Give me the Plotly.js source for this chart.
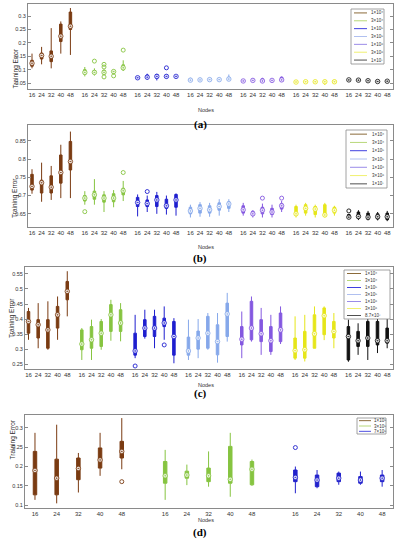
<!DOCTYPE html>
<html><head><meta charset="utf-8">
<script src="https://cdn.plot.ly/plotly-3.0.1.min.js"></script>
<style>body{margin:0;background:#fff}#chart{width:396px;height:550px}</style>
</head><body><div id="chart"></div>
<script>
// ---------- DATA ----------
const nodes = ["16","24","32","40","48"];
const legendABC = ["1×10⁴","3×10⁴","1×10⁵","3×10⁵","1×10⁶","3×10⁶","1×10⁷"];
const legendC = ["1×10⁴","3×10⁴","1×10⁵","3×10⁵","1×10⁶","3×10⁶","8.7×10⁷"];
const legendD = ["1×10⁵","3×10⁵","7×10⁵"];

// panel (a): 7 groups x 5 node counts
const aLo  = [.105,.12,.105,.16,.155, .075,.078,.08,.082,.095, .064,.062,.06,.066,.068, .054,.056,.057,.057,.058, .052,.054,.05,.053,.054, .05,.05,.05,.043,.049, .057,.056,.055,.05,.052];
const aQ1  = [.113,.14,.13,.205,.25, .083,.085,.083,.088,.1, .066,.067,.068,.07,.071, .058,.059,.06,.06,.061, .055,.057,.054,.056,.056, .052,.053,.053,.052,.051, .059,.058,.057,.053,.054];
const aMed = [.124,.153,.15,.225,.262, .09,.09,.09,.093,.107, .07,.072,.075,.075,.075, .061,.062,.063,.063,.065, .058,.06,.058,.06,.062, .054,.055,.055,.055,.055, .062,.061,.059,.056,.057];
const aQ3  = [.135,.162,.17,.27,.315, .1,.097,.098,.098,.118, .074,.08,.082,.08,.078, .066,.066,.067,.067,.072, .062,.065,.066,.064,.072, .057,.057,.057,.06,.06, .064,.064,.062,.06,.06];
const aHi  = [.16,.185,.255,.28,.33, .11,.105,.1,.1,.135, .076,.085,.085,.083,.08, .07,.07,.071,.07,.082, .064,.068,.07,.067,.075, .059,.06,.059,.062,.062, .066,.066,.064,.062,.062];
const aOutBox = [6,7,7,7,8,9,13];
const aOutVal = [.132,.12,.11,.073,.077,.173,.107];

// panel (b)
const bLo  = [.705,.683,.688,.693,.693, .675,.675,.655,.668,.685, .643,.655,.65,.648,.645, .64,.642,.642,.645,.655, .645,.64,.64,.64,.655, .64,.645,.64,.64,.645, .635,.633,.632,.632,.63];
const bQ1  = [.715,.707,.707,.734,.77, .685,.69,.682,.683,.702, .67,.67,.67,.665,.668, .65,.652,.652,.66,.665, .652,.646,.65,.648,.663, .646,.652,.648,.643,.652, .638,.637,.635,.636,.634];
const bMed = [.725,.735,.723,.763,.793, .693,.702,.693,.693,.713, .681,.678,.688,.672,.688, .658,.665,.661,.67,.677, .661,.65,.66,.655,.672, .65,.665,.663,.647,.66, .641,.643,.641,.642,.642];
const bQ3  = [.758,.742,.754,.811,.848, .7,.712,.702,.705,.72, .695,.688,.7,.69,.703, .668,.675,.672,.68,.683, .672,.657,.668,.665,.678, .67,.675,.67,.675,.668, .648,.655,.652,.65,.652];
const bHi  = [.772,.79,.781,.839,.875, .712,.745,.712,.715,.74, .703,.7,.71,.7,.706, .675,.682,.68,.69,.69, .68,.66,.678,.675,.685, .675,.68,.675,.68,.672, .65,.66,.658,.655,.658];
const bOutBox = [5,9,11,22,24,30];
const bOutVal = [.656,.763,.711,.693,.693,.658];

// panel (c)
const cLo  = [.331,.303,.298,.331,.409, .264,.264,.298,.328,.326, .27,.335,.303,.331,.253, .264,.27,.298,.255,.325, .27,.325,.281,.281,.317, .264,.259,.303,.33,.303, .258,.281,.264,.287,.303];
const cQ1  = [.353,.337,.303,.37,.464, .298,.303,.309,.359,.359, .28,.342,.342,.375,.28, .28,.30,.303,.281,.342, .314,.331,.325,.292,.325, .27,.27,.303,.348,.337, .264,.309,.309,.314,.32];
const cMed = [.392,.381,.364,.414,.492, .317,.331,.353,.414,.387, .294,.37,.37,.387,.342, .294,.337,.353,.325,.417, .333,.37,.351,.328,.364, .295,.298,.351,.411,.359, .342,.328,.337,.328,.328];
const cQ3  = [.425,.398,.398,.442,.525, .364,.375,.392,.448,.431, .353,.398,.409,.403,.392, .34,.36,.409,.381,.453, .375,.459,.398,.375,.42, .337,.359,.414,.437,.392, .375,.359,.392,.392,.37];
const cHi  = [.437,.453,.459,.475,.559, .37,.398,.40,.464,.453, .414,.431,.431,.442,.403, .398,.40,.42,.42,.487, .425,.475,.437,.414,.442, .409,.414,.442,.442,.42, .398,.386,.403,.409,.414];
const cOutBox = [10,13];
const cOutVal = [.244,.314];

// panel (d): 3 groups
const dLo  = [.114,.105,.133,.176,.193, .114,.152,.148,.122,.15, .131,.144,.153,.153,.148];
const dQ1  = [.127,.127,.166,.196,.222, .157,.17,.161,.157,.153, .161,.148,.161,.157,.161];
const dMed = [.19,.17,.195,.217,.239, .176,.178,.176,.167,.193, .172,.165,.17,.165,.17];
const dQ3  = [.239,.219,.222,.248,.265, .213,.188,.196,.252,.213, .191,.178,.183,.174,.178];
const dHi  = [.287,.308,.235,.287,.325, .243,.205,.239,.287,.218, .2,.191,.187,.187,.191];
const dOutBox = [4,10];
const dOutVal = [.161,.249];

// ---------- STYLE ----------
const W = 396, H = 550;
const boxColors = ["#7a3b12","#86c440","#1f1fcf","#86a8ea","#8458e0","#e6e61a","#111111"];
const legColors = ["#8b6b3a","#b8d87a","#4040e0","#b0c0f0","#9b8ce8","#f0f070","#505050"];
const dColors = ["#7a3b12","#86c440","#2222cc"];
const dLegColors = ["#8b6b3a","#b8d87a","#5050e0"];

const panels = [
  {k:"", lo:aLo,q1:aQ1,med:aMed,q3:aQ3,hi:aHi,ob:aOutBox,ov:aOutVal, groups:7, gap:5.5, bw:0.26,
   colors:boxColors, xdom:[28,393], ydom:[4,89], xr:[-0.417,37.6], yr:[0.028,0.345],
   yt:[0.05,0.1,0.15,0.2,0.25,0.3], ytt:["0.05","0.1","0.15","0.2","0.25","0.3"],
   leg:legendABC, lc:legColors, lbox:[351,384,9,64], ll:[354,367], lt:369, nodesY:105, capY:116, cap:"(a)", yl:9},
  {k:"2", lo:bLo,q1:bQ1,med:bMed,q3:bQ3,hi:bHi,ob:bOutBox,ov:bOutVal, groups:7, gap:5.5, bw:0.26,
   colors:boxColors, xdom:[28,393], ydom:[125,227], xr:[-0.417,37.6], yr:[0.614,0.893],
   yt:[0.65,0.7,0.75,0.8,0.85], ytt:["0.65","0.7","0.75","0.8","0.85"],
   leg:legendABC, lc:legColors, lbox:[346,387,130,188], ll:[350,367], lt:370, nodesY:247, capY:258, cap:"(b)", yl:9},
  {k:"3", lo:cLo,q1:cQ1,med:cMed,q3:cQ3,hi:cHi,ob:cOutBox,ov:cOutVal, groups:7, gap:5.5, bw:0.26,
   colors:boxColors, xdom:[25,393], ydom:[267,369], xr:[-0.36,37.6], yr:[0.234,0.573],
   yt:[0.25,0.3,0.35,0.4,0.45,0.5,0.55], ytt:["0.25","0.3","0.35","0.4","0.45","0.5","0.55"],
   leg:legendC, lc:legColors, lbox:[344,390,270,319], ll:[347,361], lt:363, nodesY:390, capY:402, cap:"(c)", yl:6},
  {k:"4", lo:dLo,q1:dQ1,med:dMed,q3:dQ3,hi:dHi,ob:dOutBox,ov:dOutVal, groups:3, gap:6, bw:0.16,
   colors:dColors, xdom:[25,393], ydom:[415,508], xr:[-0.46,16.5], yr:[0.093,0.333],
   yt:[0.1,0.15,0.2,0.25,0.3], ytt:["0.1","0.15","0.2","0.25","0.3"],
   leg:legendD, lc:dLegColors, lbox:[357,386,418,434], ll:[359,371], lt:372, nodesY:525, capY:541, cap:"(d)", yl:6}
];

const traces = [];
const layout = {
  width: W, height: H, margin:{l:0,r:0,t:0,b:0}, showlegend:false,
  paper_bgcolor:"#fff", plot_bgcolor:"#fff",
  font:{family:"Liberation Sans, Arial, sans-serif", size:6, color:"#333"},
  shapes:[], annotations:[]
};
const px = v => v / W, py = v => 1 - v / H;

panels.forEach(p => {
  const xa = "x"+p.k, ya = "y"+p.k;
  const pos = [];
  for (let g=0; g<p.groups; g++) for (let i=0;i<5;i++) pos.push(g*p.gap + i);
  for (let g=0; g<p.groups; g++) {
    const s = g*5, e = s+5;
    const c = p.colors[g];
    traces.push({
      type:"box", xaxis:xa, yaxis:ya, x:pos.slice(s,e),
      q1:p.q1.slice(s,e), median:p.med.slice(s,e), q3:p.q3.slice(s,e),
      lowerfence:p.lo.slice(s,e), upperfence:p.hi.slice(s,e),
      width:p.bw, whiskerwidth:0, boxpoints:false,
      line:{color:c, width:1}, fillcolor:c, hoverinfo:"skip"
    });
    traces.push({
      type:"scatter", mode:"markers", xaxis:xa, yaxis:ya,
      x:pos.slice(s,e), y:p.med.slice(s,e),
      marker:{symbol:"circle-dot", size:4.5, color:"rgba(255,255,255,0.85)", line:{color:c, width:0.8}},
      hoverinfo:"skip"
    });
  }
  // outliers
  traces.push({
    type:"scatter", mode:"markers", xaxis:xa, yaxis:ya,
    x:p.ob.map(b=>pos[b]), y:p.ov,
    marker:{symbol:"circle-open", size:4, color:p.ob.map(b=>p.colors[Math.floor(b/5)]), line:{width:0.9}},
    hoverinfo:"skip"
  });
  const tickText = [];
  for (let g=0; g<p.groups; g++) tickText.push(...nodes);
  layout["xaxis"+p.k] = {
    domain:[px(p.xdom[0]), px(p.xdom[1])], anchor:ya, range:p.xr,
    tickvals:pos, ticktext:tickText, ticks:"", showgrid:false, zeroline:false,
    showline:true, mirror:true, linecolor:"#8a8a8a", linewidth:1,
    tickfont:{size:6, color:"#333"}, fixedrange:true
  };
  layout["yaxis"+p.k] = {
    domain:[py(p.ydom[1]), py(p.ydom[0])], anchor:xa, range:p.yr,
    tickvals:p.yt, ticktext:p.ytt, ticks:"inside", ticklen:3, tickcolor:"#8a8a8a",
    showgrid:false, zeroline:false, showline:true, mirror:"ticks", linecolor:"#8a8a8a", linewidth:1,
    tickfont:{size:5.5, color:"#333"}, fixedrange:true
  };
  // axis labels and caption
  layout.annotations.push({xref:"paper", yref:"paper", x:px(p.yl), y:py((p.ydom[0]+p.ydom[1])/2),
    text:"Training Error", textangle:-90, showarrow:false, font:{size:6.5, color:"#333"}});
  layout.annotations.push({xref:"paper", yref:"paper", x:px(206), y:py(p.nodesY),
    text:"Nodes", showarrow:false, font:{size:5.5, color:"#333"}});
  layout.annotations.push({xref:"paper", yref:"paper", x:px(200), y:py(p.capY),
    text:"<b>"+p.cap+"</b>", showarrow:false, font:{family:"Liberation Serif, Times New Roman, serif", size:11, color:"#000"}});
  // legend box
  const [bx0,bx1,by0,by1] = p.lbox;
  layout.shapes.push({type:"rect", xref:"paper", yref:"paper", x0:px(bx0), x1:px(bx1), y0:py(by1), y1:py(by0),
    line:{color:"#8a8a8a", width:0.8}, fillcolor:"#fff"});
  const n = p.leg.length, step = (by1-by0)/n;
  p.leg.forEach((lab, k) => {
    const yy = by0 + (k+0.5)*step;
    layout.shapes.push({type:"line", xref:"paper", yref:"paper", x0:px(p.ll[0]), x1:px(p.ll[1]), y0:py(yy), y1:py(yy),
      line:{color:p.lc[k], width:1}});
    layout.annotations.push({xref:"paper", yref:"paper", x:px(p.lt), y:py(yy), xanchor:"left", yanchor:"middle",
      text:lab, showarrow:false, font:{size:4.5, color:"#333"}});
  });
});

Plotly.newPlot("chart", traces, layout, {staticPlot:true, displayModeBar:false});
</script>
</body></html>
